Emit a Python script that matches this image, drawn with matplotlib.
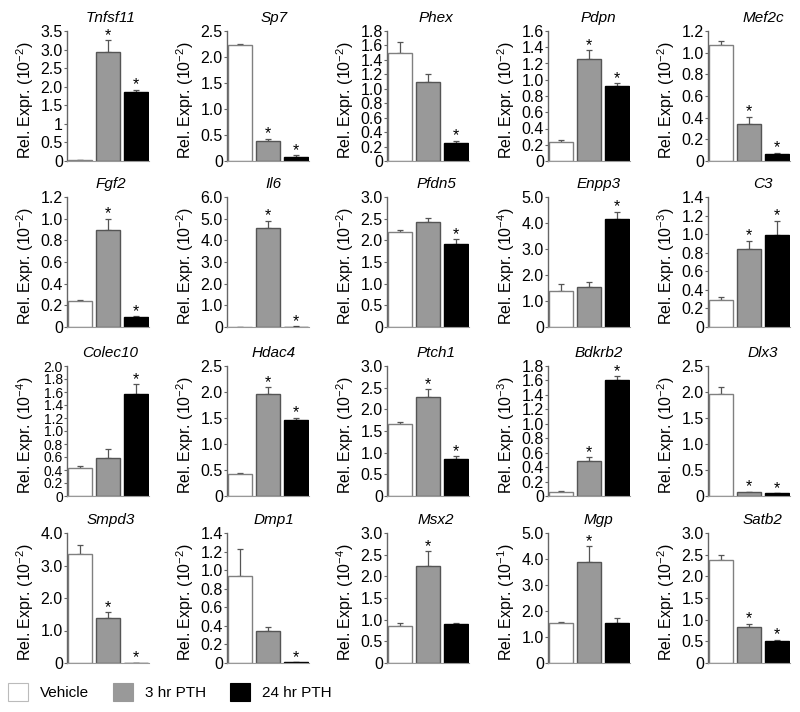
import matplotlib
matplotlib.use("Agg")
import matplotlib.pyplot as plt
from matplotlib.patches import Patch
import numpy as np

plt.rcParams["font.family"] = ["Liberation Sans", "DejaVu Sans"]
plt.rcParams["mathtext.fontset"] = "custom"
plt.rcParams["mathtext.rm"] = "Liberation Sans"

# ---- data ----
genes = ["Tnfsf11", "Sp7", "Phex", "Pdpn", "Mef2c",
         "Fgf2", "Il6", "Pfdn5", "Enpp3", "C3",
         "Colec10", "Hdac4", "Ptch1", "Bdkrb2", "Dlx3",
         "Smpd3", "Dmp1", "Msx2", "Mgp", "Satb2"]
exponents = [-2, -2, -2, -2, -2,
             -2, -2, -2, -4, -3,
             -4, -2, -2, -3, -2,
             -2, -2, -4, -1, -2]
ymax = [3.5, 2.5, 1.8, 1.6, 1.2,
        1.2, 6.0, 3.0, 5.0, 1.4,
        2.0, 2.5, 3.0, 1.8, 2.5,
        4.0, 1.4, 3.0, 5.0, 3.0]
ystep = [0.5, 0.5, 0.2, 0.2, 0.2,
         0.2, 1.0, 0.5, 1.0, 0.2,
         0.2, 0.5, 0.5, 0.2, 0.5,
         1.0, 0.2, 0.5, 1.0, 0.5]

vehicle = [0.02, 2.24, 1.50, 0.23, 1.075,
           0.24, 0.01, 2.20, 1.39, 0.294,
           0.435, 0.426, 1.67, 0.055, 1.955,
           3.34, 0.94, 0.856, 1.54, 2.37]
hr3 = [2.94, 0.38, 1.10, 1.26, 0.34,
       0.90, 4.56, 2.43, 1.52, 0.84,
       0.59, 1.96, 2.28, 0.49, 0.07,
       1.40, 0.34, 2.24, 3.89, 0.83]
hr24 = [1.87, 0.075, 0.25, 0.92, 0.064,
        0.093, 0.02, 1.91, 4.15, 0.99,
        1.57, 1.46, 0.857, 1.60, 0.05,
        0.01, 0.01, 0.894, 1.54, 0.50]

vehicle_err = [0.0, 0.01, 0.15, 0.025, 0.035,
               0.005, 0.0, 0.03, 0.27, 0.026,
               0.03, 0.024, 0.04, 0.009, 0.145,
               0.30, 0.29, 0.061, 0.05, 0.12]
hr3_err = [0.32, 0.05, 0.11, 0.105, 0.07,
           0.10, 0.34, 0.09, 0.20, 0.09,
           0.126, 0.13, 0.19, 0.05, 0.013,
           0.16, 0.05, 0.34, 0.60, 0.08]
hr24_err = [0.05, 0.035, 0.03, 0.04, 0.012,
            0.007, 0.03, 0.11, 0.29, 0.155,
            0.15, 0.045, 0.063, 0.06, 0.005,
            0.0, 0.0, 0.036, 0.18, 0.04]

# significance marks (vehicle, 3 hr, 24 hr)
stars = ["011", "011", "001", "011", "011",
         "011", "011", "001", "001", "011",
         "001", "011", "011", "011", "011",
         "011", "001", "010", "010", "011"]

groups = ["Vehicle", "3 hr PTH", "24 hr PTH"]
fills = ["white", "#999999", "black"]
edges = ["#808080", "#555555", "black"]

# ---- layout (pixels) ----
W, H = 800, 712
col_left = [67, 227, 387, 548, 708]
row_top = [31, 197, 366, 533]
ax_w, ax_h = 82, 130
title_x = [0.53, 0.57, 0.6, 0.62, 0.67]

fig = plt.figure(figsize=(W / 100, H / 100), dpi=100)

x = np.arange(3)
for i, gene in enumerate(genes):
    r, c = divmod(i, 5)
    ax = fig.add_axes([col_left[c] / W, 1 - (row_top[r] + ax_h) / H,
                       ax_w / W, ax_h / H])
    vals = [vehicle[i], hr3[i], hr24[i]]
    errs = [vehicle_err[i], hr3_err[i], hr24_err[i]]
    ax.bar(x, vals, width=0.85, color=fills, edgecolor=edges, linewidth=1.0, zorder=2)
    ax.errorbar(x, vals, yerr=[np.zeros(3), errs], fmt="none", ecolor="#555555",
                elinewidth=0.9, capsize=2, capthick=0.9, zorder=1)
    for j in range(3):
        if stars[i][j] == "1":
            ax.annotate("*", (x[j], vals[j] + errs[j]), xytext=(0, -2),
                        textcoords="offset points", ha="center", va="bottom",
                        fontsize=11.5)

    ax.set_xlim(-0.45, 2.45)
    ax.set_ylim(0, ymax[i])
    ticks = np.arange(0, ymax[i] + ystep[i] / 2, ystep[i])
    ax.set_yticks(ticks)
    labels = ["0"] + [f"{t:.1f}" for t in ticks[1:]]
    if gene == "Tnfsf11":
        labels = ["0", "0.5", "1", "1.5", "2.0", "2.5", "3.0", "3.5"]
    # dense axes (11 ticks) need a slightly smaller font so labels don't collide
    tick_fs = 10 if len(ticks) > 10 else 11.5
    ax.set_yticklabels(labels, fontsize=tick_fs)
    ax.set_xticks([])
    ax.tick_params(axis="y", length=2, width=0.8, color="#666666", pad=1)

    for s in ["top", "right"]:
        ax.spines[s].set_visible(False)
    ax.spines["left"].set_color("#666666")
    ax.spines["bottom"].set_color("#999999")
    ax.spines["left"].set_linewidth(1.0)
    ax.spines["bottom"].set_linewidth(0.8)

    ax.set_ylabel(rf"Rel. Expr. (10$^{{{exponents[i]}}}$)", fontsize=11.5)
    ax.yaxis.set_label_coords(-31 / ax_w, 0.47)
    ax.text(title_x[c], 1.0 + 13 / ax_h, gene, transform=ax.transAxes,
            ha="center", va="center", fontsize=11, style="italic")

handles = [Patch(facecolor=f, edgecolor=e, linewidth=0.8)
           for f, e in zip(fills, ["#bbbbbb", "#999999", "black"])]
fig.legend(handles, groups, loc="center left", bbox_to_anchor=(8 / W, 20 / H),
           ncol=3, frameon=False, fontsize=11, handlelength=1.3,
           handleheight=1.45, handletextpad=0.8, columnspacing=1.55,
           borderpad=0, borderaxespad=0)

fig.savefig("out.png", dpi=100)
